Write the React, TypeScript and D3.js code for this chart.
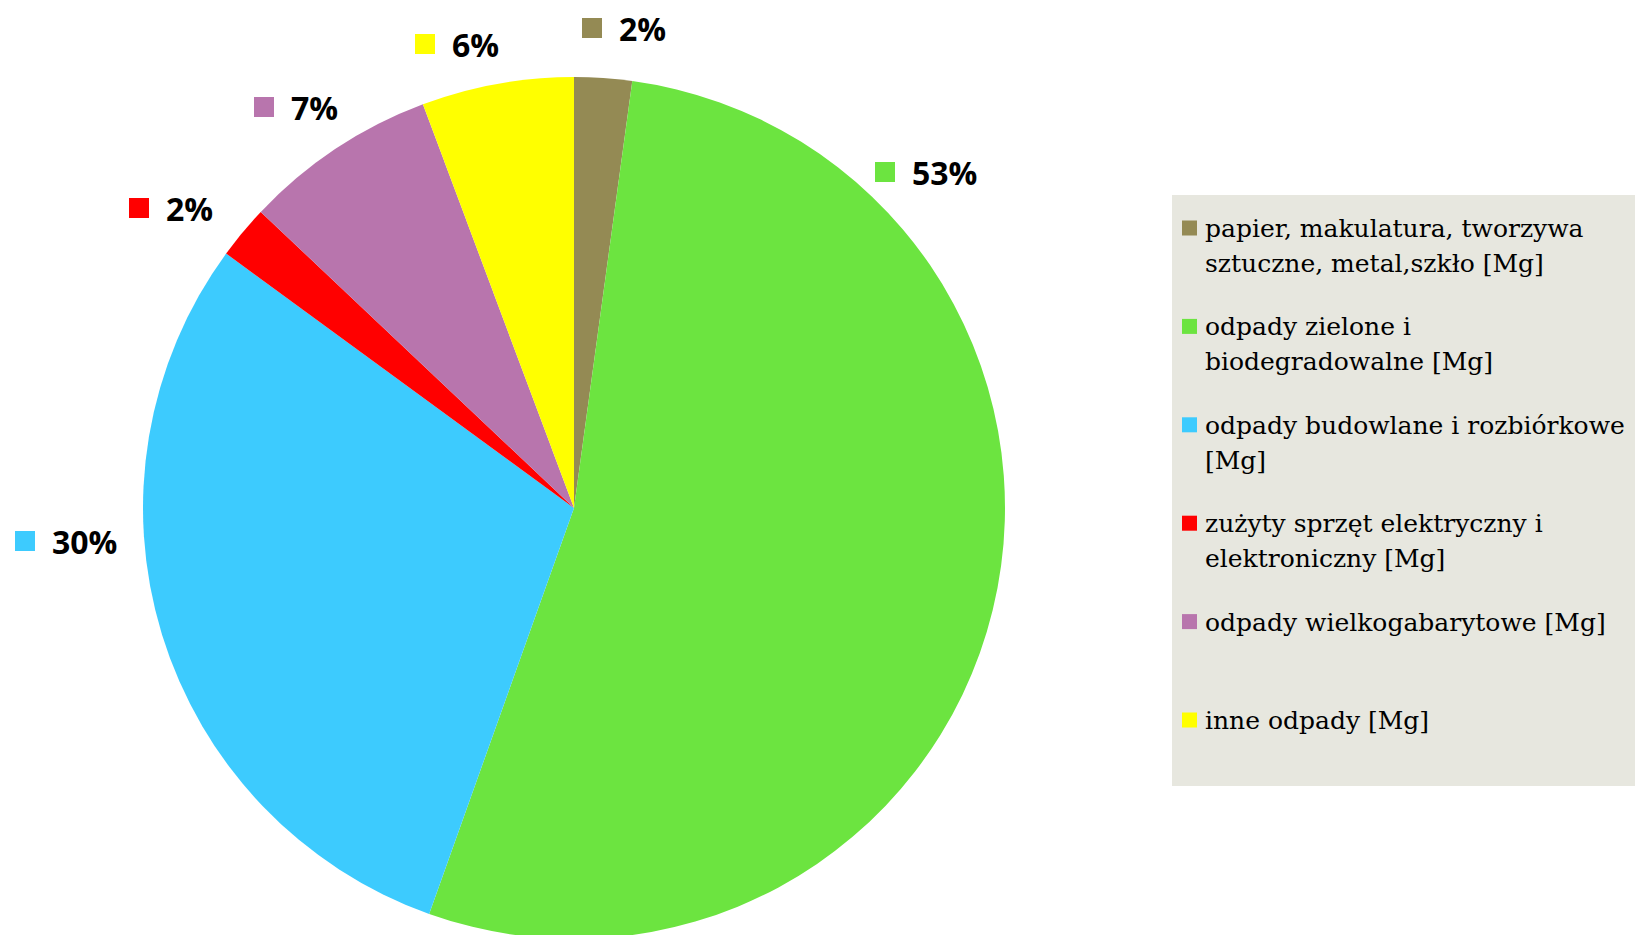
import React from "react";
import * as d3 from "d3";

const categories: string[][] = [
  ["papier, makulatura, tworzywa", "sztuczne, metal,szkło [Mg]"],
  ["odpady zielone i", "biodegradowalne [Mg]"],
  ["odpady budowlane i rozbiórkowe", "[Mg]"],
  ["zużyty sprzęt elektryczny i", "elektroniczny [Mg]"],
  ["odpady wielkogabarytowe [Mg]"],
  ["inne odpady [Mg]"],
];
const values: number[] = [2.16, 53.3, 29.6, 2.0, 7.25, 5.7];
const colors: string[] = ["#948A54", "#6CE440", "#3DCBFE", "#FF0000", "#B875AD", "#FFFF00"];
// label anchor offsets (marker left edge, vertical centre) relative to the pie centre
const labelOffsets: [number, number][] = [
  [8, -480],
  [301, -336],
  [-559, 33],
  [-445, -300],
  [-320, -401],
  [-159, -464],
];

const W = 1635;
const H = 935;
const CX = 574;
const CY = 508;
const R = 431;

export default function App() {
  const total = d3.sum(values);
  const pie = d3
    .pie<number>()
    .sort(null)
    .value((d) => d)
    .startAngle(0)
    .endAngle(2 * Math.PI);
  const arcs = pie(values);
  const arc = d3.arc<d3.PieArcDatum<number>>().innerRadius(0).outerRadius(R);
  const fmt = d3.format(".0%");

  const legendX = 1172;
  const legendY = 195;
  const legendW = W - legendX;
  const legendH = 591;
  const slot = 98.4;
  const firstY = 228;
  const lineH = 35;

  return (
    <svg
      width={W}
      height={H}
      style={{ position: "absolute", left: 0, top: 0, display: "block" }}
    >
      <rect x={0} y={0} width={W} height={H} fill="#ffffff" />
      <g transform={`translate(${CX},${CY})`}>
        {arcs.map((a, i) => (
          <path key={i} d={arc(a) || ""} fill={colors[i]} />
        ))}
        {arcs.map((a, i) => {
          const [ox, oy] = labelOffsets[i];
          return (
            <g key={"l" + i}>
              <rect x={ox} y={oy - 10} width={20} height={20} fill={colors[i]} />
              <text
                x={ox + 37}
                y={oy}
                dominantBaseline="central"
                fontFamily="'Open Sans', sans-serif"
                fontWeight={700}
                fontSize={32}
                fill="#000"
              >
                {fmt(values[i] / total)}
              </text>
            </g>
          );
        })}
      </g>
      <rect x={legendX} y={legendY} width={legendW} height={legendH} fill="#E7E7DF" />
      {categories.map((lines, i) => {
        const y0 = firstY + i * slot;
        return (
          <g key={"lg" + i}>
            <rect x={1182} y={y0 - 7.5} width={15} height={15} fill={colors[i]} />
            <text
              x={1205}
              y={y0}
              fontFamily="'DejaVu Serif', serif"
              fontSize={25}
              fill="#000"
              dominantBaseline="central"
            >
              {lines.map((ln, j) => (
                <tspan key={j} x={1205} y={y0 + j * lineH}>
                  {ln}
                </tspan>
              ))}
            </text>
          </g>
        );
      })}
    </svg>
  );
}
